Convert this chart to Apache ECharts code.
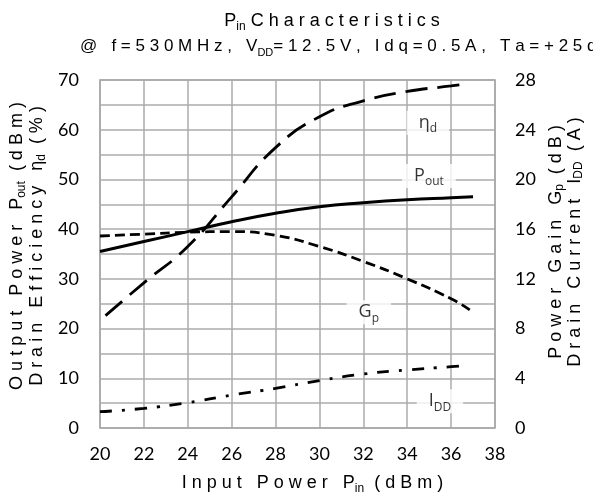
<!DOCTYPE html>
<html>
<head>
<meta charset="utf-8">
<script src="https://cdn.jsdelivr.net/npm/echarts@6/dist/echarts.min.js"></script>
<style>
  html, body { margin: 0; padding: 0; background: #fff; }
  #chart { width: 593px; height: 496px; }
</style>
</head>
<body>
<div id="chart"></div>
<script>
// Input power sweep (dBm) and measured responses
const pinPout = [20, 22, 24, 26, 28, 30, 32, 34, 36, 37];
const pout    = [35.5, 37.5, 39.5, 41.5, 43.2, 44.5, 45.3, 45.9, 46.3, 46.5];

const pinEta  = [20.25, 22, 24, 26, 28, 30, 32, 34, 36, 36.7];
const etaD    = [22.6, 29.2, 36.5, 46.5, 56.4, 62.6, 65.8, 67.7, 68.8, 69.2];

const pinGp   = [20, 22, 24, 26, 28, 30, 32, 34, 36, 36.85];
const gainP   = [15.45, 15.6, 15.75, 15.8, 15.5, 14.6, 13.4, 12.0, 10.4, 9.5];

const pinIdd  = [20, 22, 24, 26, 28, 30, 32, 34, 36, 36.6];
const iDD     = [1.31, 1.58, 2.04, 2.65, 3.19, 3.81, 4.34, 4.67, 4.93, 5.0];

// Axis ranges and tick steps
const xTicks     = { min: 20, max: 38, step: 2 };
const leftTicks  = { min: 0, max: 70, step: 5, labelStep: 10 };
const rightTicks = { min: 0, max: 28, step: 4 };

// Curve tags: [Pin, left-axis value, main text, subscript]
const curveTags = [
  [34.94, 61.4, 'η', 'd'],
  [34.99, 50.7, 'P', 'out'],
  [32.25, 23.3, 'G', 'p'],
  [35.49, 5.4, 'I', 'DD']
];

const pair = (xs, ys) => xs.map((x, i) => [x, ys[i]]);
// wide tracking, as used in the headings
const track = s => s.split('').join(' ');

const headFont = '"Liberation Sans", Arial, sans-serif';
const tickFont = 'Lato, "Open Sans", sans-serif';
const tagFont  = '"Open Sans", sans-serif';

const subStyle = size => ({ fontSize: size, lineHeight: size, verticalAlign: 'bottom', fontFamily: headFont, color: '#000' });

const chart = echarts.init(document.getElementById('chart'), null, { renderer: 'canvas' });

const lineBase = (name, xs, ys, yIdx, type, width) => ({
  name, type: 'line', yAxisIndex: yIdx,
  data: pair(xs, ys),
  smooth: 0.5,
  showSymbol: false, symbol: 'none',
  lineStyle: { color: '#000', width, type, cap: 'butt' },
  silent: true, z: 3
});

chart.setOption({
  animation: false,
  backgroundColor: '#fff',
  title: [
    {
      text: 'P{s|in}' + ' ' + track('Characteristics'),
      left: 327, top: 4, textAlign: 'center',
      textStyle: { fontFamily: headFont, fontSize: 18, fontWeight: 'normal', color: '#000', lineHeight: 24,
        rich: { s: subStyle(12) } }
    },
    {
      text: track('@ f=530MHz, V') + '{s|DD}' + track('=12.5V, Idq=0.5A, Ta=+25deg'),
      left: 75, top: 29,
      textStyle: { fontFamily: headFont, fontSize: 17, fontWeight: 'normal', color: '#000', lineHeight: 24,
        rich: { s: subStyle(11) } }
    }
  ],
  grid: {
    left: 100, right: 98, top: 80, bottom: 68,
    outerBoundsMode: 'none', containLabel: false,
    show: true, borderColor: '#9a9a9a', borderWidth: 1.5, backgroundColor: 'transparent'
  },
  xAxis: {
    type: 'value', min: xTicks.min, max: xTicks.max, interval: xTicks.step,
    axisLine: { show: false }, axisTick: { show: false },
    axisLabel: { fontFamily: tickFont, fontSize: 18, color: '#000', margin: 17 },
    splitLine: { show: true, lineStyle: { color: '#ababab', width: 1.5 } },
    name: track('Input Power P') + '{s|in}' + track(' (dBm)'),
    nameLocation: 'middle', nameGap: 43,
    nameTextStyle: { fontFamily: headFont, fontSize: 18, color: '#000', lineHeight: 24,
      padding: [0, 0, 0, 30], rich: { s: subStyle(12) } }
  },
  yAxis: [
    {
      type: 'value', min: leftTicks.min, max: leftTicks.max, interval: leftTicks.step,
      axisLine: { show: false }, axisTick: { show: false },
      axisLabel: {
        fontFamily: tickFont, fontSize: 18, color: '#000', margin: 21,
        formatter: v => (v % leftTicks.labelStep === 0 ? String(v) : '')
      },
      splitLine: { show: true, lineStyle: { color: '#ababab', width: 1.5 } },
      name: track('Output Power P') + '{s|out}' + track(' (dBm)') + '\n' +
            track('Drain Efficiency η') + '{s|d}' + track(' (%)'),
      nameLocation: 'middle', nameRotate: 90, nameGap: 52,
      nameTextStyle: { fontFamily: headFont, fontSize: 18, color: '#000', lineHeight: 20,
        padding: [0, 0, 0, 16], rich: { s: subStyle(12) } }
    },
    {
      type: 'value', min: rightTicks.min, max: rightTicks.max, interval: rightTicks.step,
      position: 'right',
      axisLine: { show: false }, axisTick: { show: false },
      axisLabel: { fontFamily: tickFont, fontSize: 18, color: '#000', margin: 20 },
      splitLine: { show: false },
      name: track('Power Gain G') + '{s|p}' + track(' (dB)') + '\n' +
            track('Drain Current I') + '{s|DD}' + track(' (A)'),
      nameLocation: 'middle', nameRotate: 90, nameGap: 49,
      nameTextStyle: { fontFamily: headFont, fontSize: 18, color: '#000', lineHeight: 19,
        padding: [0, 0, 0, 24], rich: { s: subStyle(12) } }
    }
  ],
  series: [
    lineBase('Pout', pinPout, pout, 0, 'solid', 3),
    lineBase('ηd', pinEta, etaD, 0, [22, 10], 2.8),
    lineBase('Gp', pinGp, gainP, 1, [10, 5], 2.8),
    lineBase('IDD', pinIdd, iDD, 1, [12, 10, 3, 10], 2.8),
    {
      name: 'tags', type: 'scatter', yAxisIndex: 0,
      data: curveTags.map(t => ({ value: [t[0], t[1]], main: t[2], sub: t[3] })),
      symbolSize: 0, silent: true, z: 2,
      label: {
        show: true, position: 'inside',
        formatter: p => p.data.main + '{s|' + p.data.sub + '}',
        fontFamily: tagFont, fontSize: 18, color: '#000', lineHeight: 24,
        backgroundColor: '#fff', padding: [0, 12],
        rich: { s: { fontFamily: tagFont, fontSize: 12, lineHeight: 14, verticalAlign: 'bottom', color: '#000' } }
      }
    }
  ]
});
</script>
</body>
</html>
